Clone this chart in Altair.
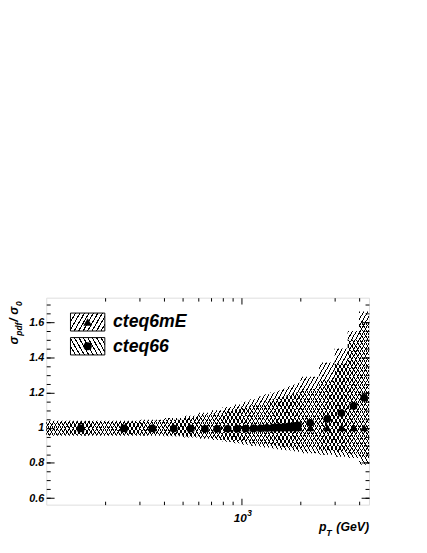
import altair as alt
import numpy as np
import pandas as pd

# ---------------- data ----------------
bin_edges = [100, 200, 300, 400, 500, 600, 700, 800, 900, 1000, 1100, 1200, 1300,
             1400, 1500, 1600, 1700, 1800, 1900, 2000, 2500, 3000, 3500, 4000, 4500]
bin_centers = [150, 250, 350, 450, 550, 650, 750, 850, 950, 1050, 1150, 1250, 1350,
               1450, 1550, 1650, 1750, 1850, 1950, 2250, 2750, 3250, 3750, 4250]

cteq6mE_ratio = [1.0, 1.0, 1.0, 1.0, 1.0, 1.0, 1.0, 1.0, 1.0, 1.0, 1.0, 1.0,
                 1.0, 1.0, 1.0, 1.0, 1.0, 1.0, 1.0, 1.0, 1.0, 1.0, 1.0, 1.0]
cteq6mE_up = [1.04, 1.04, 1.045, 1.055, 1.068, 1.085, 1.1, 1.118, 1.132, 1.148, 1.162, 1.178,
              1.19, 1.2, 1.212, 1.222, 1.235, 1.245, 1.255, 1.29, 1.37, 1.45, 1.55, 1.66]
cteq6mE_lo = [0.96, 0.96, 0.96, 0.957, 0.952, 0.945, 0.94, 0.932, 0.925, 0.918, 0.912, 0.908,
              0.904, 0.9, 0.897, 0.894, 0.891, 0.888, 0.886, 0.878, 0.87, 0.862, 0.855, 0.83]

cteq66_ratio = [0.996, 0.996, 0.996, 0.995, 0.995, 0.994, 0.994, 0.994, 0.994, 0.995, 0.996, 0.997,
                0.999, 1.001, 1.003, 1.005, 1.008, 1.011, 1.014, 1.028, 1.05, 1.083, 1.124, 1.17]
cteq66_up = [1.035, 1.035, 1.04, 1.045, 1.055, 1.07, 1.08, 1.095, 1.105, 1.12, 1.13, 1.14,
             1.15, 1.16, 1.17, 1.175, 1.185, 1.195, 1.2, 1.22, 1.27, 1.365, 1.5, 1.6]
cteq66_lo = [0.955, 0.955, 0.955, 0.952, 0.945, 0.937, 0.93, 0.92, 0.912, 0.903, 0.897, 0.892,
             0.887, 0.882, 0.878, 0.874, 0.87, 0.867, 0.864, 0.855, 0.846, 0.835, 0.828, 0.79]

y_ticks_major = [0.6, 0.8, 1.0, 1.2, 1.4, 1.6]
y_ticks_minor = [0.6, 0.65, 0.7, 0.75, 0.8, 0.85, 0.9, 0.95, 1.0, 1.05, 1.1, 1.15, 1.2,
                 1.25, 1.3, 1.35, 1.4, 1.45, 1.5, 1.55, 1.6, 1.65, 1.7]
x_ticks_major = [1000]
x_ticks_minor = [200, 300, 400, 500, 600, 700, 800, 900, 2000, 3000, 4000]

x_domain = [100, 4500]
y_domain = [0.563, 1.739]

# ---------------- tables ----------------
band = pd.DataFrame({
    "edge": bin_edges,
    "u1": cteq6mE_up + [cteq6mE_up[-1]],
    "l1": cteq6mE_lo + [cteq6mE_lo[-1]],
    "u2": cteq66_up + [cteq66_up[-1]],
    "l2": cteq66_lo + [cteq66_lo[-1]],
})
pts = pd.DataFrame({"pt": bin_centers, "r1": cteq6mE_ratio, "r2": cteq66_ratio})
one = pd.DataFrame({"x": [1000], "y": [1.0]})

W, H = 329, 211
FONT = "Liberation Sans"

xs = alt.Scale(type="log", domain=x_domain, nice=False)
ys = alt.Scale(domain=y_domain, nice=False, zero=False)


def hatch(direction, bw, bh, spacing, angle_deg=60, frac=0.27, color="black"):
    k = np.tan(np.radians(angle_deg)) * bw / bh
    a = (1 + 1 / k) / (1 + 1 / k ** 2)
    b = a / k
    n = int(round(bw * (a * a + b * b) / (a * spacing)))
    stops = []
    for i in range(n):
        s0, s1, s2 = i / n, (i + frac) / n, (i + 1) / n
        stops += [alt.GradientStop(offset=s0, color=color),
                  alt.GradientStop(offset=s1, color=color),
                  alt.GradientStop(offset=s1, color="transparent"),
                  alt.GradientStop(offset=s2, color="transparent")]
    if direction == "/":
        return alt.LinearGradient(gradient="linear", stops=stops, x1=0, y1=0, x2=float(a), y2=float(b))
    return alt.LinearGradient(gradient="linear", stops=stops, x1=0, y1=1, x2=float(a), y2=float(1 - b))


def ypix(v):
    return (y_domain[1] - v) / (y_domain[1] - y_domain[0]) * H


h1 = ypix(min(cteq6mE_lo)) - ypix(max(cteq6mE_up))
h2 = ypix(min(cteq66_lo)) - ypix(max(cteq66_up))

band1 = alt.Chart(band).mark_area(interpolate="step-after", fill=hatch("/", W, h1, 4.0)).encode(
    x=alt.X("edge:Q", scale=xs, axis=None),
    y=alt.Y("u1:Q", scale=ys, axis=None),
    y2="l1:Q",
)
band2 = alt.Chart(band).mark_area(interpolate="step-after", fill=hatch("\\", W, h2, 4.0)).encode(
    x=alt.X("edge:Q", scale=xs, axis=None),
    y=alt.Y("u2:Q", scale=ys, axis=None),
    y2="l2:Q",
)
tri = alt.Chart(pts).mark_point(shape="triangle-up", filled=True, color="black", opacity=1, size=70).encode(
    x=alt.X("pt:Q", scale=xs, axis=None),
    y=alt.Y("r1:Q", scale=ys, axis=None),
)
dots = alt.Chart(pts).mark_point(shape="circle", filled=True, color="black", opacity=1, size=62).encode(
    x=alt.X("pt:Q", scale=xs, axis=None),
    y=alt.Y("r2:Q", scale=ys, axis=None),
)

# ---------------- legend ----------------
box_l, box_r = 24.7, 59.7
box1 = (15.7, 34.0)
box2 = (40.7, 58.4)
leg = []
for (yt, yb), d in [(box1, "/"), (box2, "\\")]:
    leg.append(alt.Chart(one).mark_rect(fill=hatch(d, box_r - box_l, yb - yt, 4.6),
                                        stroke="black", strokeWidth=1).encode(
        x=alt.value(box_l), x2=alt.value(box_r), y=alt.value(yt), y2=alt.value(yb)))
leg.append(alt.Chart(one).mark_point(shape="triangle-up", filled=True, color="black", opacity=1, size=80).encode(
    x=alt.value((box_l + box_r) / 2), y=alt.value(sum(box1) / 2)))
leg.append(alt.Chart(one).mark_point(shape="circle", filled=True, color="black", opacity=1, size=70).encode(
    x=alt.value((box_l + box_r) / 2), y=alt.value(sum(box2) / 2)))
for label, (yt, yb) in [("cteq6mE", box1), ("cteq66", box2)]:
    leg.append(alt.Chart(one).mark_text(text=label, font=FONT, fontSize=18, fontStyle="italic",
                                        fontWeight="bold", align="left", baseline="middle",
                                        color="black").encode(
        x=alt.value(68), y=alt.value((yt + yb) / 2 + 0.5)))

# ---------------- axis titles and the 10^3 label ----------------
def txt(t, x, y, size, angle=0, align="left", baseline="alphabetic"):
    kw = dict(text=t, font=FONT, fontSize=size, fontStyle="italic", fontWeight="bold",
              align=align, baseline=baseline, color="black")
    if angle:
        kw["angle"] = angle
    return alt.Chart(one).mark_text(**kw).encode(x=alt.value(x), y=alt.value(y))

titles = [
    txt("p", 278, 238, 12.5),
    txt("T", 285.5, 242.5, 9),
    txt("(GeV)", 329, 238, 12.5, align="right"),
    txt("σ", -28.5, 47.7, 12.5, angle=270),
    txt("pdf", -25.0, 38.7, 8.5, angle=270),
    txt("/", -28.5, 24.5, 12.5, angle=270),
    txt("σ", -28.5, 17.5, 12.5, angle=270),
    txt("0", -25.0, 8.5, 8.5, angle=270),
    txt("10", 204.5, 228.5, 12, align="right"),
    txt("3", 204.8, 223.0, 8.5),
]

# ---------------- axes (ticks inside, ROOT style) ----------------
lab = dict(labelFont=FONT, labelFontStyle="italic", labelFontWeight="bold", labelColor="black")


def ax(orient, values, size, labels=False, **extra):
    kw = dict(orient=orient, values=values, tickSize=size, offset=-size, domain=False, grid=False,
              tickColor="black", tickWidth=1, title=None, labels=labels)
    kw.update(extra)
    return alt.Axis(**kw)


def axis_layer(xa, ya):
    return alt.Chart(one).mark_point(opacity=0).encode(
        x=alt.X("x:Q", scale=xs, axis=xa),
        y=alt.Y("y:Q", scale=ys, axis=ya),
    )

axes = [
    axis_layer(ax("bottom", x_ticks_major, 6.5),
               ax("left", y_ticks_major, 8, True, format=".1~f", labelFontSize=11,
                  labelPadding=2.5, **lab)),
    axis_layer(ax("bottom", x_ticks_minor, 3.5), ax("left", y_ticks_minor, 4)),
    axis_layer(ax("top", x_ticks_major, 6.5), ax("right", y_ticks_major, 8)),
    axis_layer(ax("top", x_ticks_minor, 3.5), ax("right", y_ticks_minor, 4)),
]

chart = alt.layer(band1, band2, tri, dots, *leg, *titles, *axes).resolve_axis(
    x="independent", y="independent"
).properties(
    width=W, height=H,
    autosize=alt.AutoSizeParams(type="none"),
    padding={"left": 39, "top": 290, "right": 51, "bottom": 44},
).configure_view(stroke="black", strokeWidth=1).configure(background="white")

chart.save("out.html", embed_options={"renderer": "svg", "actions": False})
